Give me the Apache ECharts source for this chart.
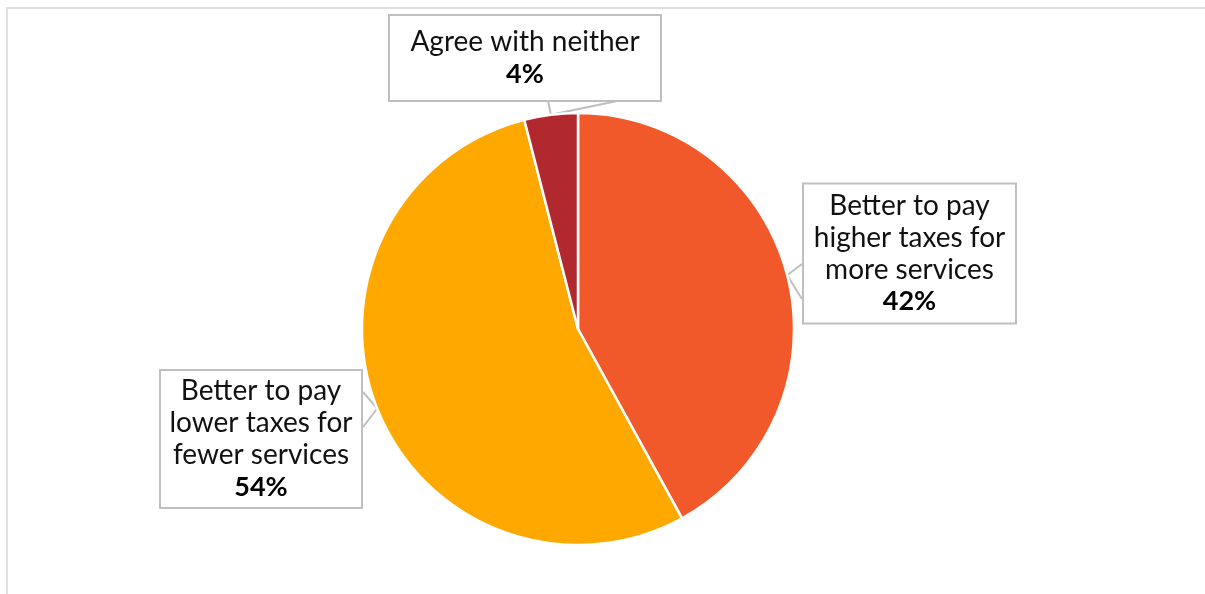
<!DOCTYPE html>
<html>
<head>
<meta charset="utf-8">
<script src="https://cdn.jsdelivr.net/npm/echarts@6/dist/echarts.min.js"></script>
<style>
html,body{margin:0;padding:0;background:#fff;}
#frame{position:absolute;left:6px;top:7px;width:1300px;height:700px;border-top:2px solid #e0e0e0;border-left:2px solid #e0e0e0;}
#chart{position:absolute;left:0;top:0;width:1205px;height:594px;}
</style>
</head>
<body>
<div id="frame"></div>
<div id="chart"></div>
<script>
// ---- data ----
const categories = ['Better to pay higher taxes for more services', 'Better to pay lower taxes for fewer services', 'Agree with neither'];
const labelText = [
  ['Better to pay', 'higher taxes for', 'more services'],
  ['Better to pay', 'lower taxes for', 'fewer services'],
  ['Agree with neither']
];
const values = [42, 54, 4];
const colors = ['#F1592A', '#FFA800', '#B2282F'];

// ---- label box layout (callout boxes) ----
const boxes = [
  {x: 802, y: 183, w: 215, h: 141, padV: 5, notch: [[802, 264], [802, 299]]},
  {x: 159, y: 370, w: 204, h: 138, padV: 4, notch: [[363, 392], [363, 427]]},
  {x: 388, y: 15, w: 274, h: 86, padV: 10, notch: [[548, 101], [617, 101]]}
];

const FONT = 'Lato, "DejaVu Sans", sans-serif';
const chart = echarts.init(document.getElementById('chart'));

const data = categories.map((name, i) => ({
  name: name,
  value: values[i],
  itemStyle: {color: colors[i]},
  label: {
    width: boxes[i].w - 4,
    padding: [boxes[i].padV, 0, boxes[i].padV, 0]
  }
}));

chart.setOption({
  animation: false,
  series: [{
    type: 'pie',
    center: [578, 329],
    radius: 216,
    startAngle: 90,
    clockwise: true,
    data: data,
    itemStyle: {borderColor: '#ffffff', borderWidth: 2.5},
    label: {
      show: true,
      position: 'outside',
      backgroundColor: '#ffffff',
      borderColor: '#bfbfbf',
      borderWidth: 2,
      align: 'center',
      formatter: function (p) {
        const lines = labelText[p.dataIndex].map(l => '{n|' + l + '}');
        lines.push('{p|' + p.value + '%}');
        return lines.join('\n');
      },
      rich: {
        n: {fontFamily: FONT, fontSize: 28, lineHeight: 32, color: '#111', align: 'center'},
        p: {fontFamily: FONT, fontSize: 27, lineHeight: 32, color: '#000', fontWeight: 'bold', align: 'center'}
      }
    },
    labelLine: {show: true, length: 10, length2: 10, lineStyle: {color: '#bfbfbf', width: 2}},
    labelLayout: function (params) {
      const b = boxes[params.dataIndex];
      const tip = params.labelLinePoints ? params.labelLinePoints[0] : [b.notch[0][0], b.notch[0][1]];
      return {
        x: b.x + b.w / 2,
        y: b.y + b.h / 2,
        align: 'center',
        verticalAlign: 'middle',
        labelLinePoints: [b.notch[0], tip, b.notch[1]]
      };
    }
  }]
});
</script>
</body>
</html>
